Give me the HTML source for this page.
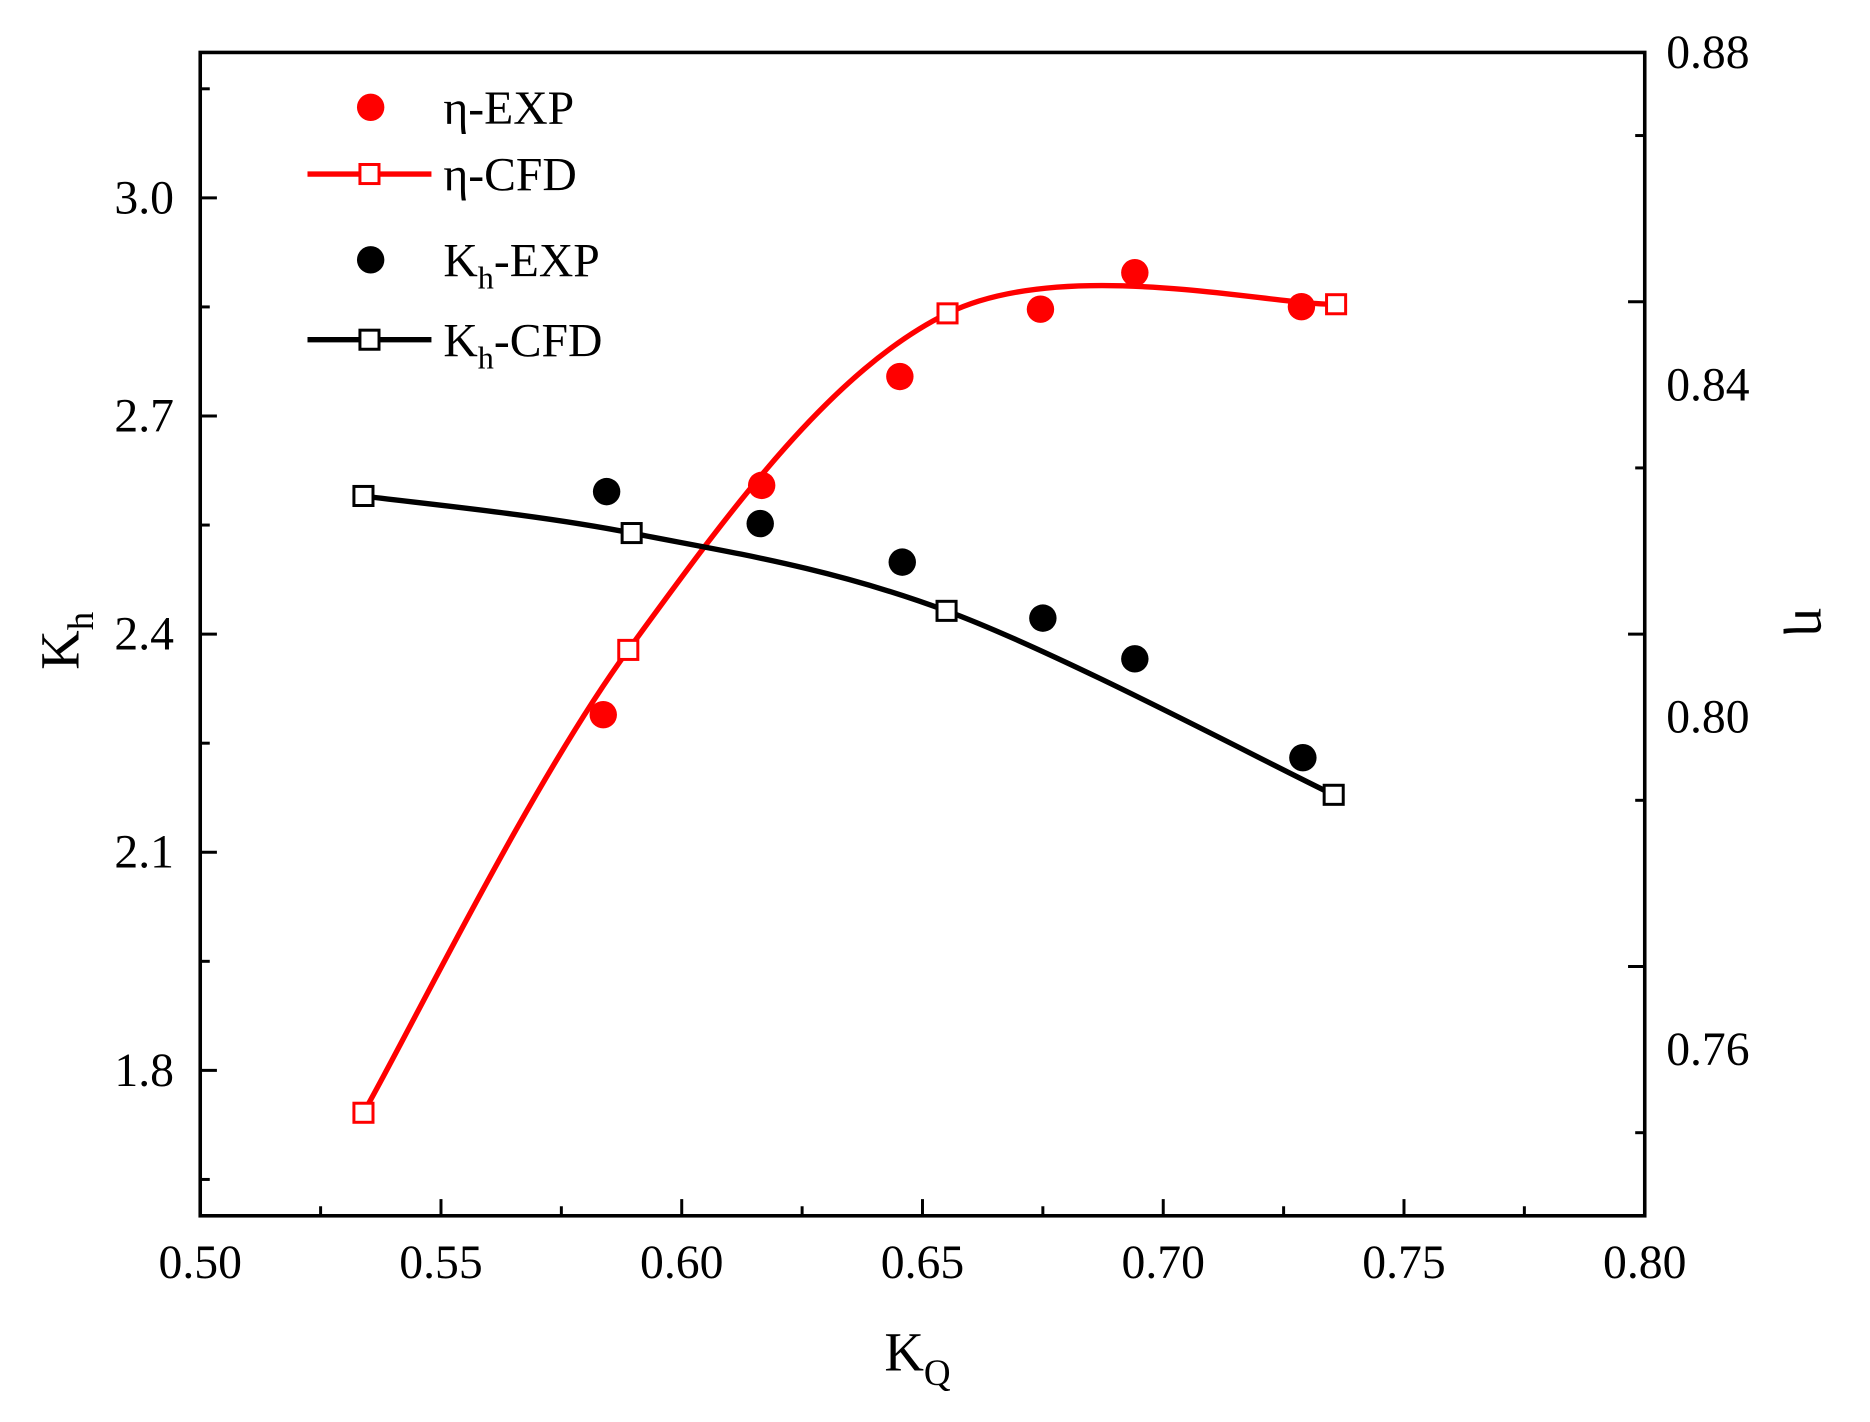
<!DOCTYPE html>
<html><head><meta charset="utf-8"><style>
html,body{margin:0;padding:0;background:#fff;}
svg{display:block;font-family:"Liberation Serif",serif;}
</style></head><body>
<svg id="chart" width="1870" height="1422" viewBox="0 0 1569 1193" preserveAspectRatio="none" xmlns="http://www.w3.org/2000/svg">
<g id="axes"></g>
<g id="series"></g>
<g id="legend">
  <circle cx="311" cy="90" r="11.5" fill="#f00"/>
  <text x="372" y="104" font-size="40">η-EXP</text>
  <line x1="258" y1="146" x2="362" y2="146" stroke="#f00" stroke-width="4.5"/>
  <rect x="302" y="138" width="16" height="16" fill="#fff" stroke="#f00" stroke-width="2.5"/>
  <text x="372" y="160" font-size="40">η-CFD</text>
  <circle cx="311" cy="218" r="11.5" fill="#000"/>
  <text x="372" y="232" font-size="40">K<tspan font-size="27" dy="10">h</tspan><tspan dy="-10">-EXP</tspan></text>
  <line x1="258" y1="285" x2="362" y2="285" stroke="#000" stroke-width="4.5"/>
  <rect x="302" y="277" width="16" height="16" fill="#fff" stroke="#000" stroke-width="2.5"/>
  <text x="372" y="299" font-size="40">K<tspan font-size="27" dy="10">h</tspan><tspan dy="-10">-CFD</tspan></text>
</g>
<text x="742" y="1150" font-size="46">K<tspan font-size="31" dy="12">Q</tspan></text>
<text transform="translate(66,562) rotate(-90)" font-size="46">K<tspan font-size="31" dy="12">h</tspan></text>
<text transform="translate(1506,510) rotate(90)" font-size="46">η</text>
</svg>
<script>
const xTicks = [0.50,0.55,0.60,0.65,0.70,0.75,0.80];
const yLeftTicks = [1.8,2.1,2.4,2.7,3.0];
const yRightTicks = [0.76,0.80,0.84,0.88];
const etaCfdX = [0.5339,0.5889,0.6552,0.7359];
const etaCfdY = [0.7524,0.8081,0.8486,0.8497];
const etaExpX = [0.5837,0.6166,0.6453,0.6745,0.6941,0.7287];
const etaExpY = [0.8003,0.8279,0.8410,0.8491,0.8535,0.8494];
const khCfdX = [0.5339,0.5896,0.6550,0.7354];
const khCfdY = [2.590,2.539,2.432,2.179];
const khExpX = [0.5844,0.6163,0.6458,0.6750,0.6941,0.7290];
const khExpY = [2.596,2.552,2.499,2.422,2.366,2.230];

const L=168,R=1380,T=44,B=1020;
const sx=v=>L+(v-0.5)/0.3*(R-L);
const syL=v=>B-(v-1.6)/1.6*(B-T);
const syR=v=>B-(v-0.74)/0.14*(B-T);
const NS="http://www.w3.org/2000/svg";
function mk(tag,attrs,parent){const e=document.createElementNS(NS,tag);for(const k in attrs)e.setAttribute(k,attrs[k]);parent.appendChild(e);return e;}
const axes=document.getElementById('axes'), series=document.getElementById('series');

const frame=mk('rect',{x:L,y:T,width:R-L,height:B-T,fill:'none',stroke:'#000','stroke-width':3},axes);



for(let i=0;i<=12;i++){const v=0.5+i*0.025;const x=sx(v);const len=i%2?8:14;
 const t=mk('line',{x1:x,y1:B,x2:x,y2:B-len,stroke:'#000','stroke-width':2.5},axes);
 
 }
xTicks.forEach(v=>{const t=mk('text',{x:sx(v),y:1072,'font-size':40,'text-anchor':'middle'},axes);t.textContent=v.toFixed(2);
 
 });

for(let i=0;i<=10;i++){const v=1.65+i*0.15;if(v>3.2)break;const y=syL(v);const major=Math.abs(((v-1.8)/0.3)-Math.round((v-1.8)/0.3))<1e-6;
 const t=mk('line',{x1:L,y1:y,x2:L+(major?14:8),y2:y,stroke:'#000','stroke-width':2.5},axes);
 
 }
yLeftTicks.forEach(v=>{const t=mk('text',{x:146,y:syL(v)+13,'font-size':40,'text-anchor':'end'},axes);t.textContent=v.toFixed(1);
 
 });

for(let i=0;i<7;i++){const v=0.75+i*0.02;const y=syR(v);const major=(i%2)==1;
 const t=mk('line',{x1:R,y1:y,x2:R-(major?14:8),y2:y,stroke:'#000','stroke-width':2.5},axes);
 
 }
yRightTicks.forEach(v=>{const t=mk('text',{x:1398,y:syR(v)+13,'font-size':40},axes);t.textContent=v.toFixed(2);
 
 });

function spline(pts){let d=`M${pts[0][0]},${pts[0][1]}`;
 for(let i=0;i<pts.length-1;i++){const p0=pts[i-1]||pts[i],p1=pts[i],p2=pts[i+1],p3=pts[i+2]||p2;
  d+=` C${p1[0]+(p2[0]-p0[0])/6},${p1[1]+(p2[1]-p0[1])/6} ${p2[0]-(p3[0]-p1[0])/6},${p2[1]-(p3[1]-p1[1])/6} ${p2[0]},${p2[1]}`;}
 return d;}

const etaPts=etaCfdX.map((x,i)=>[sx(x),syR(etaCfdY[i])]);
const khPts=khCfdX.map((x,i)=>[sx(x),syL(khCfdY[i])]);
const etaLine=mk('path',{d:spline(etaPts),fill:'none',stroke:'#f00','stroke-width':4.5},series);


const khLine=mk('path',{d:spline(khPts),fill:'none',stroke:'#000','stroke-width':4.5},series);



etaExpX.forEach((x,i)=>{const c=mk('circle',{cx:sx(x),cy:syR(etaExpY[i]),r:11.5,fill:'#f00'},series);
 
 });
khExpX.forEach((x,i)=>{const c=mk('circle',{cx:sx(x),cy:syL(khExpY[i]),r:11.5,fill:'#000'},series);
 
 });
etaPts.forEach(p=>{const r=mk('rect',{x:p[0]-8,y:p[1]-8,width:16,height:16,fill:'#fff',stroke:'#f00','stroke-width':2.5},series);
 
 });
khPts.forEach(p=>{const r=mk('rect',{x:p[0]-8,y:p[1]-8,width:16,height:16,fill:'#fff',stroke:'#000','stroke-width':2.5},series);
 
 });
</script>
</body></html>
